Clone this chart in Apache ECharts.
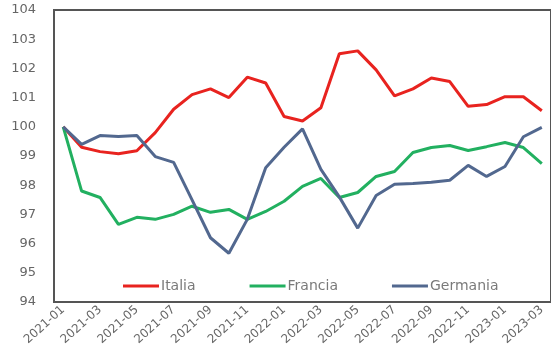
<!DOCTYPE html>
<html><head><meta charset="utf-8">
<script src="https://cdn.jsdelivr.net/npm/echarts@6/dist/echarts.min.js"></script>
<style>html,body{margin:0;padding:0;background:#fff}#c{width:551px;height:354px}</style>
</head><body><div id="c"></div>
<script>
const months = ["2021-01","2021-02","2021-03","2021-04","2021-05","2021-06","2021-07","2021-08","2021-09","2021-10","2021-11","2021-12","2022-01","2022-02","2022-03","2022-04","2022-05","2022-06","2022-07","2022-08","2022-09","2022-10","2022-11","2022-12","2023-01","2023-02","2023-03"];
const italia = [100,99.3,99.15,99.08,99.18,99.8,100.6,101.1,101.3,101.0,101.7,101.5,100.35,100.2,100.65,102.5,102.6,101.95,101.06,101.3,101.67,101.55,100.7,100.76,101.03,101.03,100.55];
const francia = [100,97.8,97.58,96.66,96.9,96.83,97.0,97.28,97.07,97.17,96.83,97.1,97.45,97.96,98.23,97.58,97.75,98.3,98.47,99.12,99.29,99.36,99.19,99.32,99.46,99.29,98.74];
const germania = [100,99.4,99.7,99.67,99.7,98.98,98.78,97.5,96.2,95.67,96.83,98.6,99.3,99.93,98.54,97.6,96.53,97.65,98.03,98.06,98.1,98.17,98.68,98.3,98.64,99.66,99.98];
const chart = echarts.init(document.getElementById('c'));
const mk = (name, data, color) => ({name, type:'line', data, symbol:'none', smooth:false,
  lineStyle:{color, width:3}, itemStyle:{color}});
chart.setOption({
  animation:false,
  grid:{left:54, top:10, width:502, height:292, show:true, borderColor:'#555', borderWidth:2, backgroundColor:'transparent'},
  legend:{top:274, left:118, itemWidth:36, itemHeight:3, itemGap:54,
    icon:'rect', textStyle:{color:'#7a7a7a', fontSize:14, fontFamily:'DejaVu Sans', padding:[0,0,0,-3]},
    data:['Italia','Francia','Germania']},
  xAxis:{type:'category', data:months, boundaryGap:true,
    axisLine:{show:false}, axisTick:{show:false}, splitLine:{show:false},
    axisLabel:{interval:1, rotate:42, color:'#666', fontSize:12, fontFamily:'DejaVu Sans', margin:6}},
  yAxis:{type:'value', min:94, max:104, interval:1,
    axisLine:{show:false}, axisTick:{show:false}, splitLine:{show:false},
    axisLabel:{color:'#666', fontSize:13, fontFamily:'DejaVu Sans', margin:18}},
  series:[mk('Italia', italia, '#e8231f'), mk('Francia', francia, '#22b060'), mk('Germania', germania, '#52688f')]
});
</script></body></html>
